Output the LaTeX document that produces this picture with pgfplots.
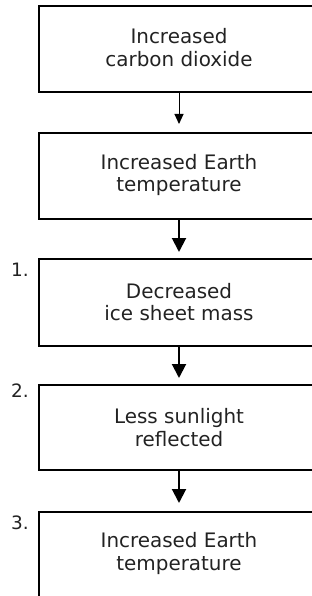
\documentclass[border=0pt]{standalone}
\usepackage{pgfplots}
\pgfplotsset{compat=1.18}
\usetikzlibrary{arrows.meta}
\usepackage{fontspec}
\setmainfont{DejaVu Sans}
\definecolor{txt}{HTML}{222222}
\begin{document}
\begin{tikzpicture}
\begin{axis}[
  width=312bp, height=596bp, scale only axis,
  xmin=0, xmax=312, ymin=0, ymax=596, y dir=reverse,
  hide axis, clip=true,
]
% boxes
\addplot[black, line width=2bp, line join=miter, line cap=rect, no marks] coordinates {(39,6)(340,6)(340,92)(39,92)(39,6)};
\addplot[black, line width=2bp, line join=miter, line cap=rect, no marks] coordinates {(39,133)(340,133)(340,219)(39,219)(39,133)};
\addplot[black, line width=2bp, line join=miter, line cap=rect, no marks] coordinates {(39,259)(340,259)(340,346)(39,346)(39,259)};
\addplot[black, line width=2bp, line join=miter, line cap=rect, no marks] coordinates {(39,385)(340,385)(340,470)(39,470)(39,385)};
\addplot[black, line width=2bp, line join=miter, line cap=rect, no marks] coordinates {(39,512)(340,512)(340,598)(39,598)(39,512)};
% arrows
\addplot[black, line width=1bp, no marks, -{Triangle[length=10bp,width=9bp]}] coordinates {(179,93)(179,124)};
\addplot[black, line width=2bp, no marks, -{Triangle[length=14bp,width=14bp]}] coordinates {(179,220)(179,252)};
\addplot[black, line width=2bp, no marks, -{Triangle[length=14bp,width=14bp]}] coordinates {(179,347)(179,378)};
\addplot[black, line width=2bp, no marks, -{Triangle[length=14bp,width=14bp]}] coordinates {(179,471)(179,503)};
% texts
\begin{scope}[every node/.style={align=center, text=txt, font=\fontsize{20}{22.5}\selectfont}]
\node at (axis cs:179,47.5) {Increased\\carbon dioxide};
\node at (axis cs:179,175) {Increased Earth\\temperature};
\node at (axis cs:179,302) {Decreased\\ice sheet mass};
\node at (axis cs:179,427.5) {Less sunlight\\reflected};
\node at (axis cs:179,553.5) {Increased Earth\\temperature};
\end{scope}
\begin{scope}[every node/.style={anchor=west, text=txt, inner sep=0pt, font=\fontsize{18.5}{20}\selectfont}]
\node at (axis cs:11,270) {1.};
\node at (axis cs:11,391) {2.};
\node at (axis cs:11,523) {3.};
\end{scope}
\end{axis}
\pgfresetboundingbox
\path (current axis.south west) rectangle (current axis.north east);
\end{tikzpicture}
\end{document}
